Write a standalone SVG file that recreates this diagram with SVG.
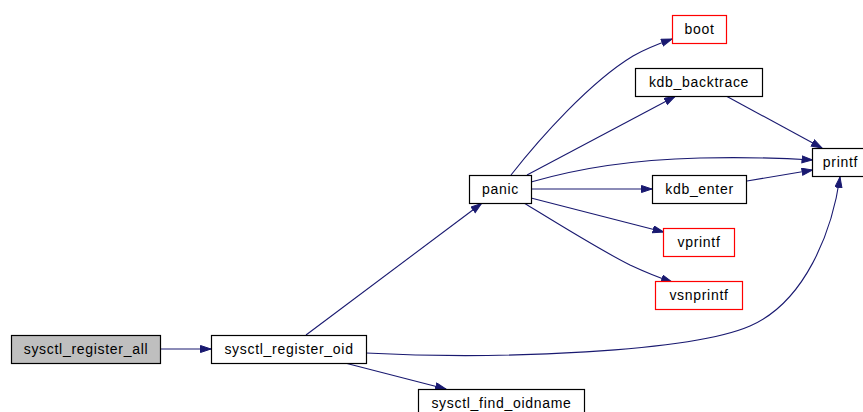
<svg xmlns="http://www.w3.org/2000/svg" width="863" height="412" viewBox="0 0 863 412">
  <style>
    .node rect { fill: #ffffff; stroke: #000000; stroke-width: 1.2; }
    .node.ext rect { stroke: #ff0000; }
    .node.root rect { fill: #bfbfbf; }
    .node text { font-family: "Liberation Sans", Arial, sans-serif; font-size: 14px; letter-spacing: 0.7px; fill: #000000; text-anchor: middle; }
    .edges path { fill: none; stroke: #191970; stroke-width: 1.1; marker-end: url(#arrow); }
  </style>
  <defs>
    <marker id="arrow" markerWidth="12" markerHeight="9" refX="11" refY="4" orient="auto" markerUnits="userSpaceOnUse">
      <path d="M0.5,0.5 L11,4 L0.5,7.5 z" fill="#191970" stroke="#191970" stroke-width="1"/>
    </marker>
  </defs>
  <rect width="863" height="412" fill="#ffffff"/>

  <g class="edges">
    <path d="M160.5,349 L211,349"/>
    <path d="M306,335 L481.5,203.5"/>
    <path d="M366,353 C500,360 690,352 750,326 C805,302 832,232 840,177"/>
    <path d="M345,363 L446,389"/>
    <path d="M511,175 C540,138 590,82 633,56 C645,49 658,44 672,39"/>
    <path d="M527,175 L675,96.5"/>
    <path d="M531,182 C580,168 630,160 700,158 C740,157 780,158 812.5,160"/>
    <path d="M531.5,189 L652,189"/>
    <path d="M531,198 L663.5,232"/>
    <path d="M524,203 C560,225 600,250 630,265 C645,272 660,278 672,282"/>
    <path d="M727,96.5 L822,148"/>
    <path d="M747,181 L812.5,170"/>
  </g>

  <g id="sysctl_register_all" class="node root">
    <rect x="11.5" y="335.5" width="149" height="28"/>
    <text x="86" y="354">sysctl_register_all</text>
  </g>
  <g id="sysctl_register_oid" class="node">
    <rect x="211.5" y="335.5" width="155" height="28"/>
    <text x="289" y="354">sysctl_register_oid</text>
  </g>
  <g id="panic" class="node">
    <rect x="469.5" y="175.5" width="62" height="28"/>
    <text x="500.5" y="194">panic</text>
  </g>
  <g id="sysctl_find_oidname" class="node">
    <rect x="418.5" y="389.5" width="166" height="28"/>
    <text x="501.5" y="408">sysctl_find_oidname</text>
  </g>
  <g id="boot" class="node ext">
    <rect x="672.5" y="15.5" width="54" height="28"/>
    <text x="699.5" y="34">boot</text>
  </g>
  <g id="kdb_backtrace" class="node">
    <rect x="635.5" y="68.5" width="127" height="28"/>
    <text x="699" y="87">kdb_backtrace</text>
  </g>
  <g id="kdb_enter" class="node">
    <rect x="652.5" y="175.5" width="94" height="28"/>
    <text x="699.5" y="194">kdb_enter</text>
  </g>
  <g id="vprintf" class="node ext">
    <rect x="663.5" y="228.5" width="71" height="28"/>
    <text x="699" y="247">vprintf</text>
  </g>
  <g id="vsnprintf" class="node ext">
    <rect x="655.5" y="281.5" width="87" height="28"/>
    <text x="699" y="300">vsnprintf</text>
  </g>
  <g id="printf" class="node">
    <rect x="812.5" y="148.5" width="56" height="28"/>
    <text x="840.5" y="167">printf</text>
  </g>
</svg>
